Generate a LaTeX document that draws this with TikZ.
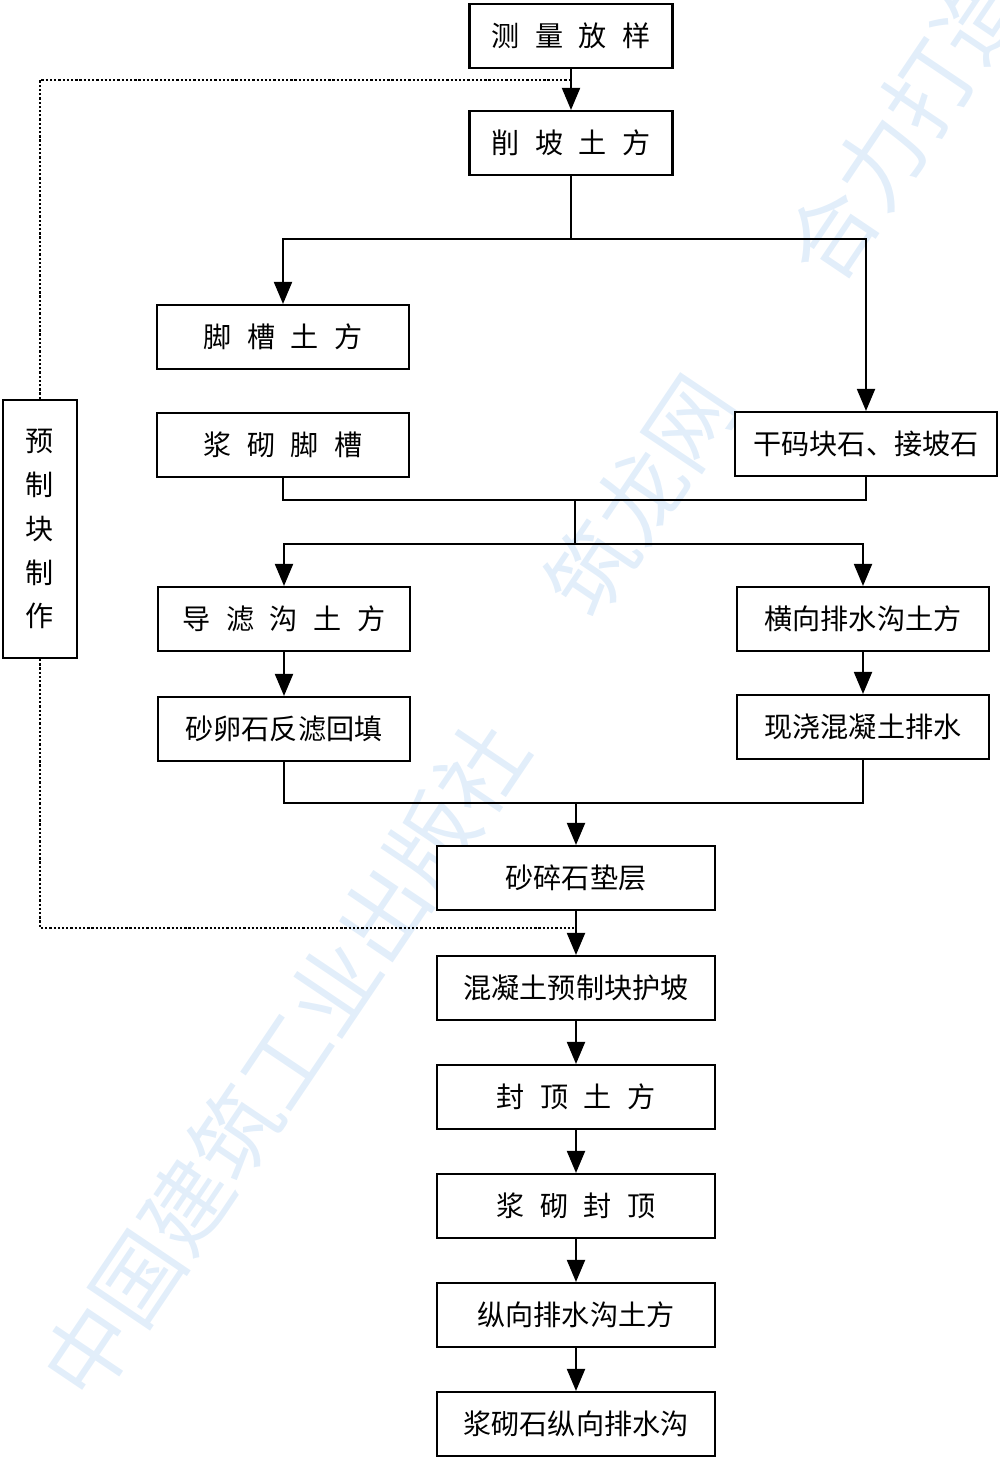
\documentclass[tikz,border=0pt]{standalone}
\usepackage{fontspec}
\newfontfamily\cjk{Noto Sans CJK SC}
\usetikzlibrary{arrows.meta}
\definecolor{wmark}{RGB}{226,238,250}
\newcommand{\gp}{\hspace{0.55em}}
\tikzset{
  box/.style={draw, fill=white, line width=1.2pt, minimum height=1.28cm, inner sep=0pt, font=\cjk\fontsize{16}{25}\selectfont},
  arr/.style={-{Triangle[width=0.36cm,length=0.44cm]}, line width=1.1pt},
  feed/.style={line width=1.5pt, dash pattern=on 1.3pt off 1.1pt},
  wm/.style={text=wmark, rotate=56, font=\cjk\fontsize{50}{50}\selectfont},
}
\begin{document}
\begin{tikzpicture}[x=0.02cm, y=-0.02cm]
	\useasboundingbox (0,0) rectangle (1000,1457);
	% watermark
	\begin{scope}
		\clip (0,0) rectangle (1000,1457);
		\node [wm] (w1) at (285,1060) {中国建筑工业出版社};
		\node [wm] (w2) at (640,495) {筑龙网};
		\node [wm] (w3) at (905,125) {合力打造};
	\end{scope}
	% main column
	\node [box, minimum width=4.06cm] (cl) at (571,36) {测\gp 量\gp 放\gp 样};
	\node [box, minimum width=4.06cm] (xp) at (571,143) {削\gp 坡\gp 土\gp 方};
	\node [box, minimum width=5.04cm] (jc) at (283,337) {脚\gp 槽\gp 土\gp 方};
	\node [box, minimum width=5.04cm] (jj) at (283,445) {浆\gp 砌\gp 脚\gp 槽};
	\node [box, minimum width=5.24cm] (gm) at (866,444) {干码块石、接坡石};
	\node [box, minimum width=1.48cm, minimum height=5.16cm, align=center] (yz) at (40,529) {预\\制\\块\\制\\作};
	\node [box, minimum width=5.04cm] (dl) at (284,619) {导\gp 滤\gp 沟\gp 土\gp 方};
	\node [box, minimum width=5.04cm] (hx) at (863,619) {横向排水沟土方};
	\node [box, minimum width=5.04cm] (sl) at (284,729) {砂卵石反滤回填};
	\node [box, minimum width=5.04cm] (xj) at (863,727) {现浇混凝土排水};
	\node [box, minimum width=5.56cm] (sp) at (576,878) {砂碎石垫层};
	\node [box, minimum width=5.56cm] (hn) at (576,988) {混凝土预制块护坡};
	\node [box, minimum width=5.56cm] (fd) at (576,1097) {封\gp 顶\gp 土\gp 方};
	\node [box, minimum width=5.56cm] (jf) at (576,1206) {浆\gp 砌\gp 封\gp 顶};
	\node [box, minimum width=5.56cm] (zx) at (576,1315) {纵向排水沟土方};
	\node [box, minimum width=5.56cm] (js) at (576,1424) {浆砌石纵向排水沟};
	% junctions
	\coordinate (f1) at (571,239);
	\coordinate (f2) at (575,500);
	\coordinate (f3) at (575,544);
	\coordinate (f4) at (576,803);
	\coordinate (d1) at (571,80);
	\coordinate (d2) at (576,928);
	% connectors
	\draw [arr] (cl) -- (xp);
	\draw [line width=1.1pt] (xp) -- (f1);
	\draw [arr] (f1) -| (jc.north);
	\draw [arr] (f1) -| (gm.north);
	\draw [line width=1.1pt] (jj.south) |- (f2);
	\draw [line width=1.1pt] (gm.south) |- (f2);
	\draw [line width=1.1pt] (f2) -- (f3);
	\draw [arr] (f3) -| (dl.north);
	\draw [arr] (f3) -| (hx.north);
	\draw [arr] (dl) -- (sl);
	\draw [arr] (hx) -- (xj);
	\draw [line width=1.1pt] (sl.south) |- (f4);
	\draw [line width=1.1pt] (xj.south) |- (f4);
	\draw [arr] (f4) -- (sp);
	\draw [arr] (sp) -- (hn);
	\draw [arr] (hn) -- (fd);
	\draw [arr] (fd) -- (jf);
	\draw [arr] (jf) -- (zx);
	\draw [arr] (zx) -- (js);
	% precast feed
	\draw [feed] (yz.north) |- (d1);
	\draw [feed] (yz.south) |- (d2);
\end{tikzpicture}
\end{document}
